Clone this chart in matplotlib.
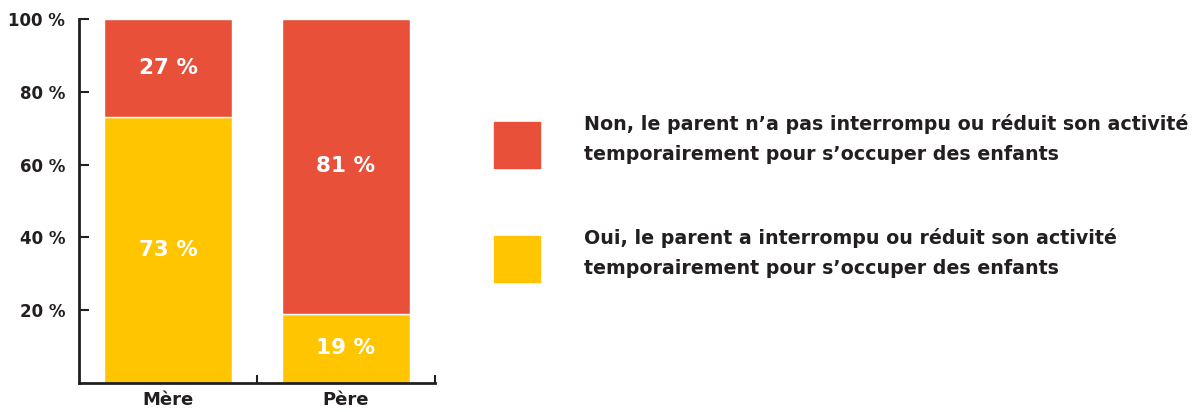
import matplotlib.pyplot as plt
from matplotlib.patches import Rectangle

categories = ['Mère', 'Père']
oui = [73, 19]
non = [27, 81]
labels = ["Non, le parent n\u2019a pas interrompu ou réduit son activité\ntemporairement pour s\u2019occuper des enfants",
          "Oui, le parent a interrompu ou réduit son activité\ntemporairement pour s\u2019occuper des enfants"]
yticks = [20, 40, 60, 80, 100]

red = '#E8503A'
yellow = '#FFC600'
dark = '#231F20'

plt.rcParams['font.family'] = ['DejaVu Sans']

fig = plt.figure(figsize=(12.04, 4.12), dpi=100)
ax = fig.add_axes([79 / 1204, 29 / 412, 356 / 1204, 364 / 412])

x = list(range(len(categories)))
ax.bar(x, oui, width=0.72, color=yellow, edgecolor='white', linewidth=1)
ax.bar(x, non, width=0.72, bottom=oui, color=red, edgecolor='white', linewidth=1)

for i in x:
    ax.text(i, oui[i] / 2, f'{oui[i]} %', ha='center', va='center',
            color='white', fontsize=15.5, fontweight='bold')
    ax.text(i, oui[i] + non[i] / 2, f'{non[i]} %', ha='center', va='center',
            color='white', fontsize=15.5, fontweight='bold')

ax.set_xlim(-0.5, 1.5)
ax.set_ylim(0, 100)
ax.set_yticks(yticks)
ax.set_yticklabels([f'{v} %' for v in yticks], fontsize=12, fontweight='bold', color=dark)
ax.set_xticks(x)
ax.set_xticklabels(categories, fontsize=13, fontweight='bold', color=dark)
ax.set_xticks([0.5, 1.5], minor=True)
ax.tick_params(axis='x', which='major', length=0, pad=6)
ax.tick_params(axis='x', which='minor', direction='in', length=6, width=1.5, color=dark)
ax.tick_params(axis='y', direction='in', length=7, width=1.5, color=dark, pad=10)
for s in ['top', 'right']:
    ax.spines[s].set_visible(False)
for s in ['left', 'bottom']:
    ax.spines[s].set_linewidth(2)
    ax.spines[s].set_color(dark)

# legend
legend_colors = [red, yellow]
legend_y = [145, 259]
for c, lab, yc in zip(legend_colors, labels, legend_y):
    fig.add_artist(Rectangle((494 / 1204, (412 - yc - 23) / 412), 46 / 1204, 46 / 412,
                             transform=fig.transFigure, color=c))
    fig.text(584 / 1204, (412 - yc + 6) / 412, lab, ha='left', va='center',
             fontsize=13.7, fontweight='bold', color=dark, linespacing=1.7)

fig.savefig('out.png', dpi=100)
